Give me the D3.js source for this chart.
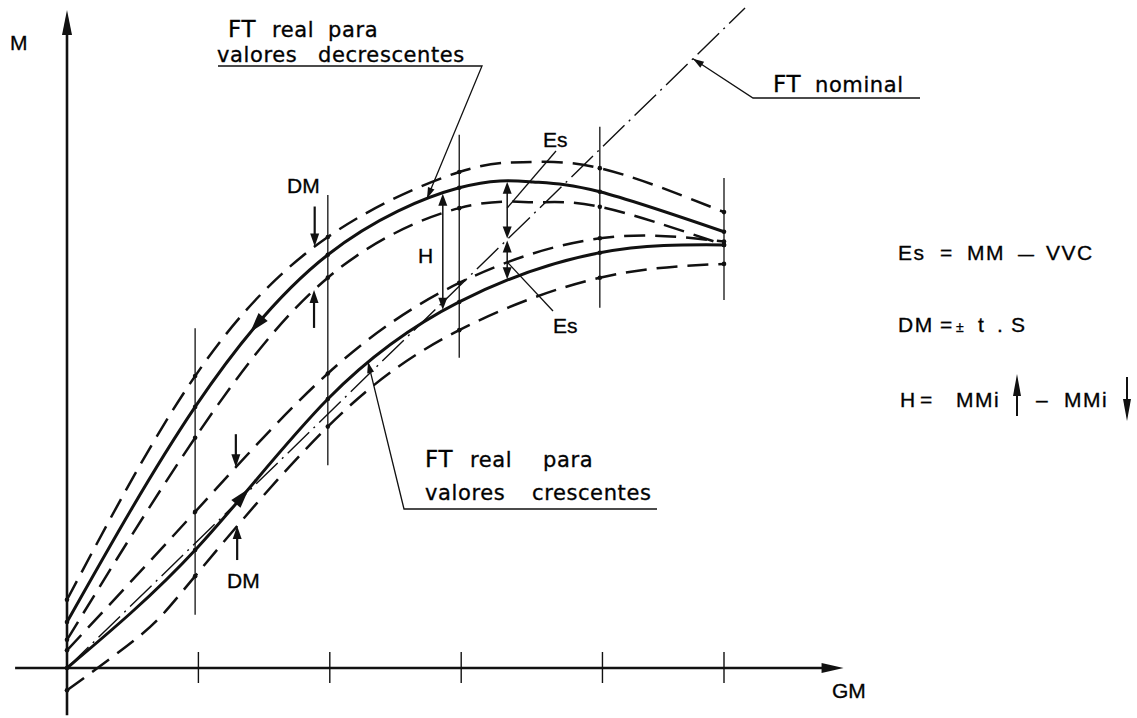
<!DOCTYPE html>
<html><head><meta charset="utf-8">
<script src="https://cdn.jsdelivr.net/npm/d3@7"></script>
<style>
  body { margin: 0; background: #fff; }
  svg { display: block; }
  .lbl { font-family: "DejaVu Sans", sans-serif; font-size: 21px; letter-spacing: 0.6px; stroke: #111; stroke-width: 0.35px; }
  .sym { font-family: "Liberation Sans", Arial, sans-serif; font-size: 21px; stroke: #111; stroke-width: 0.35px; }
</style></head><body>
<svg id="chart" width="1137" height="718"></svg>
<script>
// ── Data (GM 0..100 = last station, M 0..100 = top of axis) ──
const gmTicks = [20, 40, 60, 81.5, 100];
const gmStations = [0, 19.5, 39.7, 59.7, 81.1, 100];
const stationTop = [51.8, 72.1, 81.3, 82.5, 74.7];
const stationBottom = [8.1, 30.9, 47.3, 54.9, 56.1];

// FT real for decreasing values (upper band)
const decReal = [[0, 7.0], [19.5, 39.8], [39.7, 63.0], [59.7, 73.2], [70.9, 74.1], [81.1, 72.6], [100, 66.5]];
const decHigh = [[0, 10.4], [19.5, 44.5], [39.7, 65.7], [59.7, 75.6], [69.4, 77.1], [81.1, 76.2], [100, 69.5]];
const decLow = [[0, 4.3], [19.5, 35.1], [39.7, 59.5], [59.7, 70.1], [70.9, 71.0], [81.1, 70.3], [100, 64.5]];

// FT real for increasing values (lower band)
const incReal = [[0, 0], [19.8, 18.3], [39.7, 41.0], [59.7, 55.8], [81.1, 63.3], [100, 64.5]];
const incHigh = [[0, 2.7], [19.5, 23.8], [39.7, 44.9], [59.7, 58.7], [81.1, 65.5], [100, 65.0]];
const incLow = [[0, -3.4], [11.2, 5.0], [19.5, 14.0], [39.7, 36.8], [59.7, 51.5], [81.1, 59.5], [100, 61.6]];

// FT nominal
const nominal = [[0, 0], [103.2, 100.6]];

const xAxisExtent = [-7.9, 118.2];
const yAxisExtent = [-7.2, 100.3];

// ── Setup ──
const svg = d3.select("#chart");
const x = d3.scaleLinear().domain([0, 100]).range([67, 724]);
const y = d3.scaleLinear().domain([0, 100]).range([668, 12]);
const ink = "#111";

const smooth = d3.line().x(d => x(d[0])).y(d => y(d[1])).curve(d3.curveNatural);
const straight = d3.line().x(d => x(d[0])).y(d => y(d[1]));

function arrowHead(g, tip, angle, len, half) {
  const bx = tip[0] - len * Math.cos(angle), by = tip[1] - len * Math.sin(angle);
  const nx = -Math.sin(angle) * half, ny = Math.cos(angle) * half;
  g.append("path")
    .attr("d", `M${tip[0]},${tip[1]}L${bx + nx},${by + ny}L${bx - nx},${by - ny}Z`)
    .attr("fill", ink);
}

// point on a (x-monotone) path at pixel x
function pointAt(node, px) {
  let lo = 0, hi = node.getTotalLength();
  for (let i = 0; i < 40; i++) {
    const mid = (lo + hi) / 2;
    if (node.getPointAtLength(mid).x < px) lo = mid; else hi = mid;
  }
  const p = node.getPointAtLength(lo);
  const q = node.getPointAtLength(Math.min(lo + 2, node.getTotalLength()));
  return { x: p.x, y: p.y, angle: Math.atan2(q.y - p.y, q.x - p.x) };
}

// ── Axes ──
const axes = svg.append("g");
axes.append("line")
  .attr("x1", x(xAxisExtent[0])).attr("x2", x(xAxisExtent[1]) - 10)
  .attr("y1", y(0)).attr("y2", y(0))
  .attr("stroke", ink).attr("stroke-width", 2.6);
arrowHead(axes, [x(xAxisExtent[1]), y(0)], 0, 22, 5);
axes.append("line")
  .attr("x1", x(0)).attr("x2", x(0))
  .attr("y1", y(yAxisExtent[0])).attr("y2", y(yAxisExtent[1]) + 10)
  .attr("stroke", ink).attr("stroke-width", 2.6);
arrowHead(axes, [x(0), y(yAxisExtent[1])], -Math.PI / 2, 25, 5);

axes.selectAll(".tick").data(gmTicks).join("line")
  .attr("x1", d => x(d)).attr("x2", d => x(d))
  .attr("y1", y(0) - 16).attr("y2", y(0) + 15)
  .attr("stroke", ink).attr("stroke-width", 1.4);

svg.append("text").attr("class", "sym").attr("x", 10).attr("y", 50).text("M");
svg.append("text").attr("class", "sym").attr("x", 832).attr("y", 698).attr("font-size", 20).text("GM");

// ── Station verticals ──
svg.append("g").selectAll("line").data(gmStations.slice(1)).join("line")
  .attr("x1", d => x(d)).attr("x2", d => x(d))
  .attr("y1", (d, i) => y(stationTop[i])).attr("y2", (d, i) => y(stationBottom[i]))
  .attr("stroke", ink).attr("stroke-width", 1.3);

// ── Curves ──
const curves = svg.append("g").attr("fill", "none").attr("stroke", ink);
const nomPath = curves.append("path").datum(nominal).attr("d", straight)
  .attr("stroke-width", 1.4).attr("stroke-dasharray", "30,6,2,6");

const series = [
  { key: "decHigh", data: decHigh, w: 2.5, dash: "21,10" },
  { key: "decReal", data: decReal, w: 3.0, dash: null },
  { key: "decLow", data: decLow, w: 2.5, dash: "21,10" },
  { key: "incHigh", data: incHigh, w: 2.5, dash: "21,10" },
  { key: "incReal", data: incReal, w: 3.0, dash: null },
  { key: "incLow", data: incLow, w: 2.5, dash: "21,10" }
];
const paths = {};
series.forEach(s => {
  paths[s.key] = curves.append("path").datum(s.data).attr("d", smooth)
    .attr("stroke-width", s.w).attr("stroke-dasharray", s.dash).node();
});
paths.nominal = nomPath.node();

// intersection dots
const dots = svg.append("g").attr("fill", ink);
series.forEach(s => {
  gmStations.forEach(g => {
    const p = pointAt(paths[s.key], x(g) + 0.01);
    dots.append("circle").attr("cx", x(g)).attr("cy", p.y).attr("r", 2.3);
  });
});

// direction arrows on real curves
const ann = svg.append("g");
{
  const p = pointAt(paths.decReal, 256);
  arrowHead(ann, [p.x - 9 * Math.cos(p.angle), p.y - 9 * Math.sin(p.angle)], p.angle + Math.PI, 20, 6);
  const q = pointAt(paths.incReal, 243);
  arrowHead(ann, [q.x + 9 * Math.cos(q.angle), q.y + 9 * Math.sin(q.angle)], q.angle, 20, 6);
}

// ── DM arrows (single, pointing at the band limits) ──
const dmArrows = [
  { gm: 37.7, curve: "decHigh", dir: 1, len: 40 },
  { gm: 37.6, curve: "decLow", dir: -1, len: 38 },
  { gm: 25.7, curve: "incHigh", dir: 1, len: 33 },
  { gm: 25.9, curve: "incLow", dir: -1, len: 34 }
];
dmArrows.forEach(a => {
  const px = x(a.gm), tip = pointAt(paths[a.curve], px).y;
  ann.append("line").attr("x1", px).attr("x2", px)
    .attr("y1", tip - a.dir * a.len).attr("y2", tip - a.dir * 8)
    .attr("stroke", ink).attr("stroke-width", 2.2);
  arrowHead(ann, [px, tip], a.dir * Math.PI / 2, 13, 4.5);
});

// ── Double arrows: H and Es ──
const doubleArrows = [
  { gm: 57.2, from: "decReal", to: "incReal" },
  { gm: 67.0, from: "decReal", to: "nominal" },
  { gm: 67.0, from: "nominal", to: "incReal" }
];
doubleArrows.forEach(a => {
  const px = x(a.gm);
  const y1 = pointAt(paths[a.from], px).y + 1, y2 = pointAt(paths[a.to], px).y - 1;
  ann.append("line").attr("x1", px).attr("x2", px).attr("y1", y1 + 6).attr("y2", y2 - 6)
    .attr("stroke", ink).attr("stroke-width", 1.5);
  arrowHead(ann, [px, y1], -Math.PI / 2, 12, 4.5);
  arrowHead(ann, [px, y2], Math.PI / 2, 12, 4.5);
});

// ── Leaders ──
function leader(pts, curve, tipX) {
  const tip = pointAt(paths[curve], tipX);
  const all = pts.concat([[tip.x, tip.y]]);
  ann.append("path").attr("d", d3.line()(all)).attr("fill", "none")
    .attr("stroke", ink).attr("stroke-width", 1.3);
  const [ax, ay] = all[all.length - 2];
  arrowHead(ann, [tip.x, tip.y], Math.atan2(tip.y - ay, tip.x - ax), 11, 3.5);
}
leader([[218, 66], [482, 66]], "decReal", 427);
leader([[920, 98], [753, 98]], "nominal", 693);
leader([[657, 509], [404, 509]], "incReal", 368);

// Es leaders
ann.append("line").attr("x1", 556).attr("y1", 151).attr("x2", x(67.0)).attr("y2", 208)
  .attr("stroke", ink).attr("stroke-width", 1.3);
ann.append("line").attr("x1", 553).attr("y1", 311).attr("x2", x(67.0)).attr("y2", 262)
  .attr("stroke", ink).attr("stroke-width", 1.3);

// ── Labels ──
function words(yb, parts, cls) {
  const t = svg.append("text").attr("class", cls || "lbl").attr("y", yb);
  parts.forEach(([txt, px, fs]) => {
    const s = t.append("tspan").attr("x", px).text(txt);
    if (fs) s.attr("font-size", fs);
  });
  return t;
}
words(37, [["FT", 228, 23], ["real", 272], ["para", 328]]);
words(62, [["valores", 217], ["decrescentes", 318]]);
words(92, [["FT", 773, 23], ["nominal", 815]]);
words(467, [["FT", 425, 23], ["real", 470], ["para", 543]]);
words(500, [["valores", 425], ["crescentes", 532]]);

words(193, [["DM", 287]], "sym");
words(588, [["DM", 227]], "sym");
words(263, [["H", 418]], "sym");
words(147, [["Es", 543]], "sym");
words(333, [["Es", 553]], "sym");

// ── Legend formulas ──
words(260, [["Es", 898], ["=", 940], ["MM", 967], ["—", 1018, 16], ["VVC", 1046]], "sym").attr("letter-spacing", 1.5);
words(332, [["DM", 898], ["=", 940], ["±", 956, 14], ["t", 978], [".", 997], ["S", 1011]], "sym").attr("letter-spacing", 1.5);
words(407, [["H", 900], ["=", 920], ["MMi", 956], ["–", 1036], ["MMi", 1064]], "sym").attr("letter-spacing", 1.5);
{
  ann.append("line").attr("x1", 1017).attr("x2", 1017).attr("y1", 416).attr("y2", 390)
    .attr("stroke", ink).attr("stroke-width", 2);
  arrowHead(ann, [1017, 374], -Math.PI / 2, 22, 4);
  ann.append("line").attr("x1", 1127).attr("x2", 1127).attr("y1", 377).attr("y2", 404)
    .attr("stroke", ink).attr("stroke-width", 2);
  arrowHead(ann, [1127, 421], Math.PI / 2, 22, 4);
}
</script>
</body></html>
